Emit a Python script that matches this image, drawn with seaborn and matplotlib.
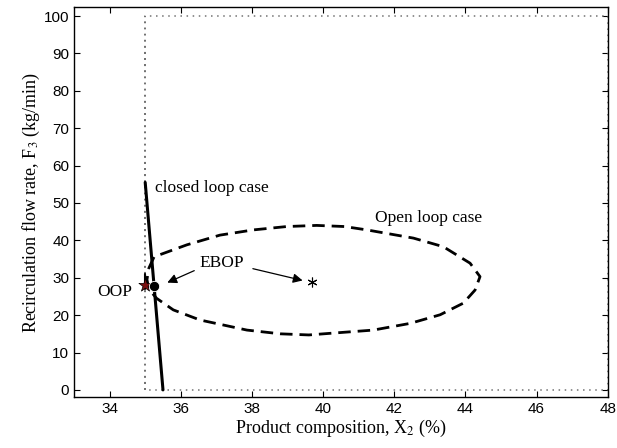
import matplotlib
matplotlib.use('Agg')
import matplotlib.pyplot as plt
import numpy as np
import pandas as pd
import seaborn as sns

# ---- data ----
bound_x = [35, 35, 48, 48, 35, 35]
bound_y = [0, 100, 100, 0, 0, 100]

closed_x = [35.0, 35.5]
closed_y = [55.5, 0.0]

open_x = [35.1, 35.25, 36.17, 37.1, 38.04, 38.98, 39.82, 40.6, 41.23, 42.54, 43.38,
          44.13, 44.41, 44.27, 43.94, 43.29, 42.45, 41.41, 40.29, 39.6, 38.8,
          37.86, 36.54, 35.79, 35.32, 35.1, 35.05, 35.1]
open_y = [32.5, 35.6, 38.8, 41.4, 42.8, 43.7, 44.0, 43.7, 42.8, 40.6, 38.3,
          33.9, 30.3, 26.7, 23.2, 20.1, 17.8, 16.0, 15.2, 14.7, 15.0,
          16.0, 18.7, 21.4, 24.5, 27.0, 29.5, 32.5]

oop = (35.0, 28.0)
ebop_closed = (35.25, 27.9)
ebop_open = (39.68, 28.9)

x_ticks = [34, 36, 38, 40, 42, 44, 46, 48]
y_ticks = [0, 10, 20, 30, 40, 50, 60, 70, 80, 90, 100]

sns.set_style('ticks')
plt.rcParams['font.family'] = ['Liberation Sans', 'DejaVu Sans']
plt.rcParams['mathtext.fontset'] = 'stix'
plt.rcParams['xtick.direction'] = 'in'
plt.rcParams['ytick.direction'] = 'in'
for key in ['text.color', 'axes.labelcolor', 'xtick.color', 'ytick.color',
            'axes.edgecolor']:
    plt.rcParams[key] = 'black'

fig = plt.figure(figsize=(6.17, 4.48), dpi=100)
ax = fig.add_axes([0.12, 0.113, 0.865, 0.872])

sns.lineplot(x=bound_x, y=bound_y, sort=False, estimator=None, ax=ax,
             color='0.45', linestyle=(0, (1, 3)), linewidth=1.1)
sns.lineplot(x=open_x, y=open_y, sort=False, estimator=None, ax=ax,
             color='black', linestyle=(0, (4.5, 2.5)), linewidth=2.0)
sns.lineplot(x=closed_x, y=closed_y, sort=False, estimator=None, ax=ax,
             color='black', linewidth=2.2)

ax.plot([oop[0], oop[0]], [oop[1] - 1, oop[1] + 3], color='black', linewidth=1.5)
sns.scatterplot(x=[oop[0]], y=[oop[1]], marker='*', s=100, color='#7a1010',
                edgecolor='black', linewidth=0.5, ax=ax, zorder=5)
sns.scatterplot(x=[ebop_closed[0]], y=[ebop_closed[1]], marker='o', s=55,
                color='black', ax=ax, zorder=5)
ax.plot(ebop_open[0], ebop_open[1], marker=(6, 2, 0), markersize=7,
        color='black', markeredgewidth=0.8)

serif = ['Liberation Serif', 'DejaVu Serif']
ax.text(34.15, 26.3, 'OOP', family=serif, fontsize=12.5, ha='center', va='center')
ax.text(35.28, 54.0, 'closed loop case', family=serif, fontsize=12.5,
        ha='left', va='center')
ax.text(42.96, 45.9, 'Open loop case', family=serif, fontsize=12.5,
        ha='center', va='center')
ax.text(37.15, 33.9, 'EBOP', family=serif, fontsize=12.5, ha='center', va='center')
ax.annotate('', xy=(35.55, 28.4), xytext=(36.45, 32.2),
            arrowprops=dict(arrowstyle='-|>', color='black', lw=0.9,
                            mutation_scale=14))
ax.annotate('', xy=(39.5, 29.1), xytext=(37.95, 32.6),
            arrowprops=dict(arrowstyle='-|>', color='black', lw=0.9,
                            mutation_scale=14))

ax.set_xlim(33, 48)
ax.set_ylim(-2, 102.5)
ax.set_xticks(x_ticks)
ax.set_yticks(y_ticks)
ax.tick_params(top=True, right=True, labelsize=11, length=4, width=0.8)
for s in ax.spines.values():
    s.set_linewidth(1.0)
    s.set_visible(True)

ax.set_xlabel('Product composition, X$_2$ (%)', family=serif, fontsize=13,
              labelpad=1)
ax.set_ylabel('Recirculation flow rate, F$_3$ (kg/min)', family=serif,
              fontsize=13, labelpad=1)

fig.savefig('out.png', dpi=100)
